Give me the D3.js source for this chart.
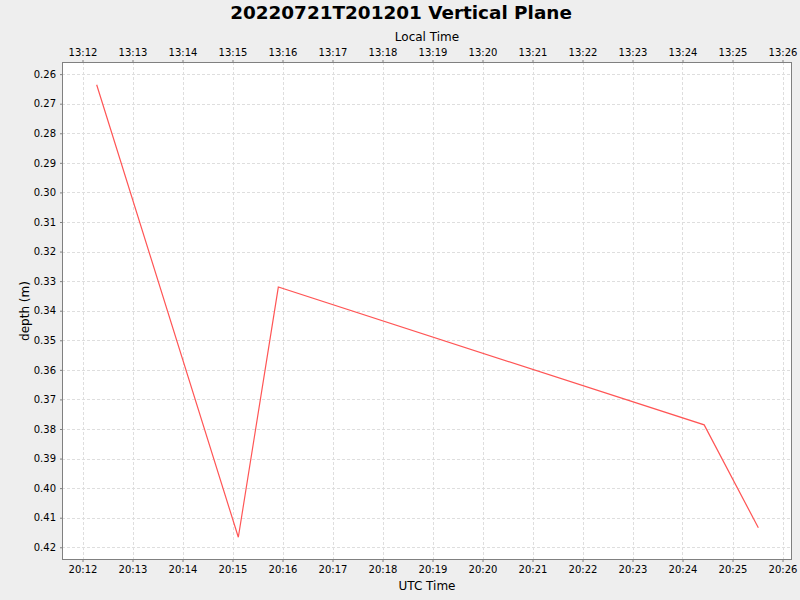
<!DOCTYPE html>
<html>
<head>
<meta charset="utf-8">
<script src="https://cdn.jsdelivr.net/npm/d3@7"></script>
<style>
html,body{margin:0;padding:0;background:#EEEEEE;}
svg{display:block;font-family:"DejaVu Sans",sans-serif;}
</style>
</head>
<body>
<svg id="chart" width="800" height="600"></svg>
<script>
// Data (UTC times, depth in metres)
const times = ["2022-07-21T20:12:17Z","2022-07-21T20:15:07Z","2022-07-21T20:15:55Z","2022-07-21T20:24:26Z","2022-07-21T20:25:31Z"];
const depths = [0.2636, 0.4166, 0.3320, 0.3786, 0.4134];
const yTicks = [0.26,0.27,0.28,0.29,0.30,0.31,0.32,0.33,0.34,0.35,0.36,0.37,0.38,0.39,0.40,0.41,0.42];
const utcDomain = ["2022-07-21T20:11:35.4Z","2022-07-21T20:26:11.4Z"];
const depthDomain = [0.2559, 0.4243];
const localOffsetHours = -7;
const titleText = "20220721T201201 Vertical Plane";

const svg = d3.select("#chart");
const L = 62, R = 792, T = 62, B = 560;

const x = d3.scaleUtc().domain(utcDomain.map(d => new Date(d))).range([L, R]);
const xLocal = d3.scaleUtc()
  .domain(x.domain().map(d => new Date(+d + localOffsetHours*3600e3)))
  .range([L, R]);
const y = d3.scaleLinear().domain(depthDomain).range([T, B]);

// plot background
svg.append("rect").attr("x", L).attr("y", T).attr("width", R-L).attr("height", B-T).attr("fill", "#fff");

const xTicks = x.ticks(d3.utcMinute.every(1));
const gridColor = "#dedede";
// gridlines
svg.append("g").selectAll("line").data(xTicks).join("line")
  .attr("x1", d => Math.round(x(d))+0.5).attr("x2", d => Math.round(x(d))+0.5)
  .attr("y1", T).attr("y2", B)
  .attr("stroke", gridColor).attr("stroke-width", 1).attr("stroke-dasharray", "3,2");
svg.append("g").selectAll("line").data(yTicks).join("line")
  .attr("y1", d => Math.round(y(d))+0.5).attr("y2", d => Math.round(y(d))+0.5)
  .attr("x1", L).attr("x2", R)
  .attr("stroke", gridColor).attr("stroke-width", 1).attr("stroke-dasharray", "3,2");

// axes
const fmt = d3.utcFormat("%H:%M");
const axB = svg.append("g").attr("transform", `translate(0,${B})`)
  .call(d3.axisBottom(x).ticks(d3.utcMinute.every(1)).tickFormat(fmt).tickSizeInner(2).tickSizeOuter(0).tickPadding(4));
const axT = svg.append("g").attr("transform", `translate(0,${T})`)
  .call(d3.axisTop(xLocal).ticks(d3.utcMinute.every(1)).tickFormat(fmt).tickSizeInner(2).tickSizeOuter(0).tickPadding(4));
const axL = svg.append("g").attr("transform", `translate(${L},0)`)
  .call(d3.axisLeft(y).tickValues(yTicks).tickFormat(d3.format(".2f")).tickSizeInner(2).tickSizeOuter(0).tickPadding(4));
[axB, axT, axL].forEach(g => {
  g.selectAll("text").attr("font-size", 10).attr("fill", "#000").attr("font-family", "DejaVu Sans, sans-serif");
  g.selectAll(".tick line").attr("stroke", "#808080");
  g.select(".domain").remove();
});

// plot border
svg.append("rect").attr("x", L+0.5).attr("y", T+0.5).attr("width", R-L-1).attr("height", B-T-1)
  .attr("fill", "none").attr("stroke", "#808080").attr("stroke-width", 1);

// line
const pts = times.map((t, i) => [new Date(t), depths[i]]);
svg.append("path").datum(pts)
  .attr("d", d3.line().x(d => x(d[0])).y(d => y(d[1])))
  .attr("fill", "none").attr("stroke", "#FF5555").attr("stroke-width", 1.2);

// labels
svg.append("text").attr("x", 401).attr("y", 19).attr("text-anchor", "middle")
  .attr("font-size", 18.4).attr("font-weight", "bold").attr("fill", "#000").text(titleText);
svg.append("text").attr("x", (L+R)/2).attr("y", 41).attr("text-anchor", "middle")
  .attr("font-size", 12).attr("fill", "#000").text("Local Time");
svg.append("text").attr("x", (L+R)/2).attr("y", 590).attr("text-anchor", "middle")
  .attr("font-size", 12).attr("fill", "#000").text("UTC Time");
svg.append("text").attr("transform", `translate(29,${(T+B)/2}) rotate(-90)`).attr("text-anchor", "middle")
  .attr("font-size", 12).attr("fill", "#000").text("depth (m)");
</script>
</body>
</html>
